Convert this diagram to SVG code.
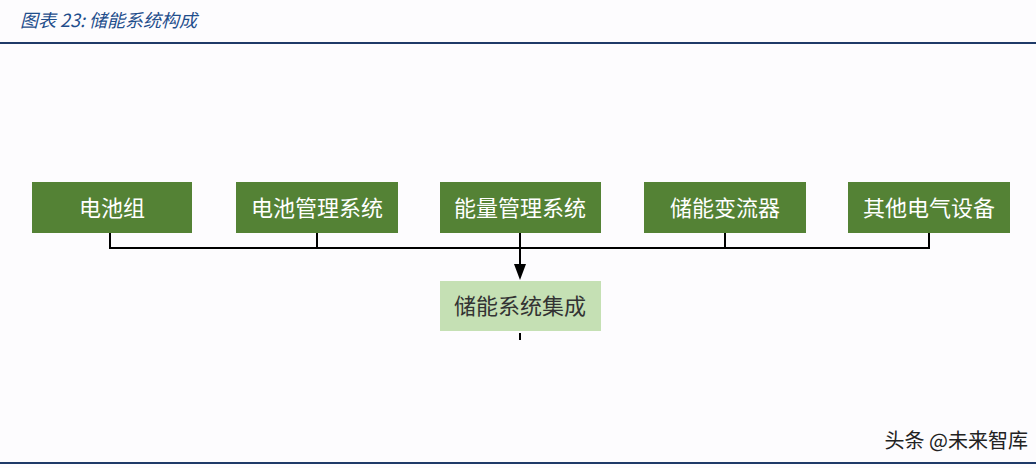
<svg xmlns="http://www.w3.org/2000/svg" width="1036" height="468" viewBox="0 0 1036 468">
<style>
.b{fill:#548235}
.t{font-family:"Noto Sans CJK SC",sans-serif;font-size:22px;text-anchor:middle;fill:#fff}
.c{stroke:#000;stroke-width:2;fill:none}
</style>
<defs><marker id="a" markerWidth="10" markerHeight="10" refX="5" refY="10" orient="auto" markerUnits="userSpaceOnUse" viewBox="0 0 10 10"><path d="M0,0L10,0L5,10z" fill="#000" transform="rotate(-90 5 5)"/></marker></defs>
<rect width="1036" height="468" fill="#fdfcfe"/>
<text x="20" y="27" font-family="Noto Sans CJK SC,sans-serif" font-size="18" font-style="italic" fill="#1f4e8c">图表 23:  储能系统构成</text>
<line x1="0" y1="43" x2="1036" y2="43" stroke="#1f3a68" stroke-width="2"/>
<g id="n1"><rect class="b" x="32" y="182" width="160" height="51"/><text class="t" x="112" y="216">电池组</text></g>
<g id="n2"><rect class="b" x="236" y="182" width="162" height="51"/><text class="t" x="317" y="216">电池管理系统</text></g>
<g id="n3"><rect class="b" x="440" y="182" width="161" height="51"/><text class="t" x="520" y="216">能量管理系统</text></g>
<g id="n4"><rect class="b" x="644" y="182" width="162" height="51"/><text class="t" x="725" y="216">储能变流器</text></g>
<g id="n5"><rect class="b" x="848" y="182" width="162" height="51"/><text class="t" x="929" y="216">其他电气设备</text></g>
<g id="n6"><rect fill="#c5e0b4" x="440" y="281" width="161" height="50"/><text class="t" x="520" y="314" fill="#333" style="fill:#333">储能系统集成</text></g>
<g id="connectors">
<path class="c" d="M110,233V248H929V233M317,233V248M725,233V248"/>
<line x1="520" y1="233" x2="520" y2="266" class="c"/>
<path d="M514,264L526,264L520,280z" fill="#000"/>
<line x1="520" y1="333" x2="520" y2="340" class="c"/>
</g>
<text x="1028" y="448" font-family="Noto Sans CJK SC,sans-serif" font-size="20" text-anchor="end" fill="#222">头条 @未来智库</text>
<line x1="0" y1="463" x2="1036" y2="463" stroke="#1f3a68" stroke-width="2"/>
</svg>
